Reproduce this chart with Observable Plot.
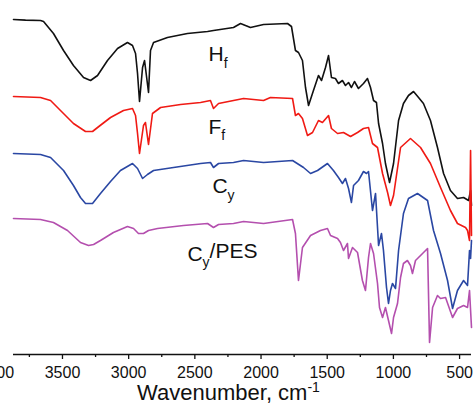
<!DOCTYPE html>
<html>
<head>
<meta charset="utf-8">
<script src="https://cdn.jsdelivr.net/npm/d3@7"></script>
<script src="https://cdn.jsdelivr.net/npm/@observablehq/plot@0.6"></script>
<style>
  html, body { margin: 0; padding: 0; background: #fff; }
  #chart svg { display: block; font-family: "Liberation Sans", Arial, sans-serif; }
</style>
</head>
<body>
<div id="chart"></div>
<script>
// Wavenumber (cm-1) and offset transmittance (arbitrary units)
const hfWn = [3870,3779,3666,3643,3568,3492,3417,3341,3288,3235,3160,3084,3009,2971,2948,2933,2918,2895,2880,2850,2835,2812,2707,2556,2404,2359,2208,2155,2080,1981,1800,1770,1740,1717,1687,1664,1641,1604,1566,1543,1513,1490,1468,1438,1415,1385,1362,1339,1317,1294,1264,1226,1196,1173,1150,1128,1112,1082,1060,1029,999,961,924,886,848,810,773,720,667,621,569,516,470,432,417,410];
const hfT  = [167.5,167.2,167,166.5,160.5,152,144.5,138.5,137,139.5,147,153,156,154.5,150.5,140.5,126.5,143.5,147,131,152,156,158.5,160.5,161.5,162,163.5,165.5,163.5,165,165.5,164,152,151,147,133.5,124.5,132,139.5,137,143.5,149.5,138.5,138,135.5,137,134.5,136,133.5,136.5,133,135.5,138,133.5,127,126,115.5,105.5,95.5,86,95.5,117,125.5,129.5,131.5,128.5,125.5,117,103.5,90.5,82,78,78.5,77,82,74.5];

const ffWn = [3870,3666,3590,3515,3417,3326,3273,3235,3137,3039,2971,2948,2933,2918,2888,2873,2850,2820,2759,2608,2457,2382,2359,2321,2208,2132,1981,1929,1762,1740,1717,1687,1649,1611,1566,1536,1490,1468,1422,1377,1324,1271,1226,1188,1158,1120,1082,1044,1022,999,946,871,795,720,644,569,516,455,440,425,417,410];
const ffT  = [129,128.5,127,122,115.5,111.5,111.5,113.5,118.5,122,123,119.5,110.5,100.5,114.5,116,105,120.5,123.5,125,126,127,123,125.5,127,128,127,128.5,128,119.5,120.5,118,109.5,111,117,116,119.5,113,110.5,111,109,111,113,113.5,105.5,103.5,90.5,81,74.5,79.5,103.5,108,103.5,95.5,83.5,72,65.5,63.5,62,57,102,59.5];

const cyWn = [3870,3666,3590,3492,3417,3364,3326,3273,3213,3137,3062,2971,2933,2895,2858,2812,2661,2457,2382,2359,2321,2208,2132,1981,1762,1679,1626,1573,1498,1453,1415,1385,1362,1339,1317,1301,1264,1226,1203,1188,1158,1135,1112,1090,1075,1052,1037,1022,1007,984,961,924,886,818,742,697,644,591,553,516,470,440,425,417,410];
const cyT  = [100.5,100,98.5,92,84.5,78.5,75.5,75.5,80.5,86.5,92,95.5,93,88,90,92,93.5,95.5,96,93.5,95.5,96,97,96,97,93.5,90.5,92,95.5,92,88.5,85.5,88,83,76,84.5,87,91.5,90.5,91.5,72,80.5,54.5,60.5,52,33.5,25.5,32,35.5,33,52,70.5,78,80.5,77,62,50.5,37,23,32,37,34.5,52,48,57];

const pesWn = [3870,3666,3568,3462,3364,3303,3265,3213,3115,3009,2963,2926,2888,2850,2782,2586,2404,2359,2321,2208,2132,1981,1762,1740,1717,1687,1626,1551,1498,1475,1422,1400,1377,1347,1339,1309,1271,1234,1211,1188,1173,1150,1120,1105,1082,1060,1037,1014,999,969,946,924,894,871,856,833,795,742,727,704,667,644,606,553,516,470,440,425,410];
const pesT  = [68,67.5,66,62,56,54.5,55,57,61,64,63,60.5,60.5,62,63,64.5,65.5,63.5,65,65.5,66.5,65.5,67.5,60.5,37,53.5,59.5,62,63,59.5,58,56,52,55.5,48,53.5,51,37,32,48.5,55.5,50.5,35.5,23.5,18.5,23.5,17,10.5,18.5,25.5,38.5,45.5,47,44.5,40.5,47,49.5,53,6,23.5,29.5,28,28.5,18.5,23,24.5,23.5,32,13.5];

const seriesNames  = ["Hf", "Ff", "Cy", "Cy/PES"];
const seriesColors = ["#111111", "#f01a14", "#2a47a3", "#b44fae"];

const labelText = ["H_f", "F_f", "C_y", "C_y/PES"];
const labelWn   = [2397, 2397, 2367, 2556];
const labelT    = [150, 113.75, 84, 50.25];

const majorTicks = [4000, 3500, 3000, 2500, 2000, 1500, 1000, 500];
const minorTicks = [3750, 3250, 2750, 2250, 1750, 1250, 750];
const xTitle = "Wavenumber, cm^-1";

// Build tidy table
const sets = [[hfWn, hfT], [ffWn, ffT], [cyWn, cyT], [pesWn, pesT]];
const rows = [];
sets.forEach(([w, t], i) => w.forEach((wn, j) => rows.push({series: seriesNames[i], wn, t: t[j]})));
const labels = labelText.map((text, i) => ({text, wn: labelWn[i], t: labelT[i]}));

const plot = Plot.plot({
  width: 473,
  height: 404,
  marginLeft: 13,
  marginRight: 2,
  marginTop: 0,
  marginBottom: 50,
  style: {fontFamily: '"Liberation Sans", Arial, sans-serif', color: "#111", background: "#fff"},
  x: {domain: [3870, 410], label: null},
  y: {domain: [0, 177], axis: null},
  color: {domain: seriesNames, range: seriesColors},
  marks: [
    Plot.line(rows, {x: "wn", y: "t", z: "series", stroke: "series", strokeWidth: 1.6, curve: "linear"}),
    Plot.ruleY([0], {stroke: "#111", strokeWidth: 1.5}),
    Plot.axisX(majorTicks, {tickSize: 5, tickPadding: 7, fontSize: 16, stroke: "#111", strokeWidth: 1.3, label: null, tickFormat: d => String(d)}),
    Plot.axisX(minorTicks, {tickSize: 3, stroke: "#111", strokeWidth: 1.3, label: null, tickFormat: () => ""}),
    Plot.text(labels, {x: "wn", y: "t", text: "text", textAnchor: "start", fontSize: 21, fill: "#111"}),
    Plot.text([xTitle], {frameAnchor: "bottom", dy: 45.5, dx: -14, fontSize: 22, fill: "#111"})
  ]
});

// Sub/superscripts as real text with tspans
d3.select(plot).selectAll("text").each(function() {
  const s = this.textContent;
  let m = s.match(/^(.*?)_(.)(.*)$/);
  if (m) {
    const el = d3.select(this).text(null);
    el.append("tspan").text(m[1]);
    el.append("tspan").attr("font-size", 14).attr("dy", "0.45em").text(m[2]);
    if (m[3]) el.append("tspan").attr("dy", "-0.45em").text(m[3]);
    return;
  }
  m = s.match(/^(.*)\^(.*)$/);
  if (m) {
    const el = d3.select(this).text(null);
    el.append("tspan").text(m[1]);
    el.append("tspan").attr("font-size", 14).attr("dy", "-0.6em").text(m[2]);
  }
});

document.getElementById("chart").appendChild(plot);
</script>
</body>
</html>
